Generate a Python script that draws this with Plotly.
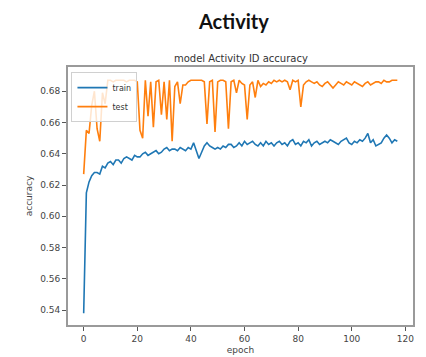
import plotly.graph_objects as go

epochs = list(range(118))

train_acc = [
    0.538, 0.615, 0.622, 0.626, 0.628, 0.628, 0.627, 0.632, 0.631, 0.634,
    0.635, 0.633, 0.636, 0.636, 0.634, 0.637, 0.638, 0.637, 0.636, 0.639,
    0.638, 0.638, 0.640, 0.641, 0.639, 0.640, 0.641, 0.642, 0.640, 0.641,
    0.643, 0.644, 0.642, 0.643, 0.643, 0.642, 0.644, 0.643, 0.642, 0.644,
    0.643, 0.647, 0.642, 0.637, 0.641, 0.645, 0.647, 0.645, 0.644, 0.643,
    0.644, 0.643, 0.645, 0.644, 0.646, 0.646, 0.644, 0.645, 0.647, 0.645,
    0.648, 0.646, 0.647, 0.648, 0.646, 0.645, 0.647, 0.645, 0.648, 0.646,
    0.647, 0.645, 0.647, 0.648, 0.646, 0.647, 0.645, 0.648, 0.649, 0.646,
    0.647, 0.645, 0.648, 0.647, 0.649, 0.645, 0.647, 0.648, 0.646, 0.647,
    0.648, 0.647, 0.649, 0.648, 0.647, 0.646, 0.648, 0.649, 0.650, 0.647,
    0.646, 0.648, 0.647, 0.649, 0.648, 0.650, 0.653, 0.647, 0.649, 0.645,
    0.646, 0.647, 0.650, 0.652, 0.650, 0.647, 0.649, 0.648,
]

test_acc = [
    0.627, 0.655, 0.653, 0.671, 0.680, 0.656, 0.648, 0.679, 0.672, 0.687,
    0.687, 0.686, 0.687, 0.687, 0.687, 0.687, 0.686, 0.687, 0.687, 0.687,
    0.686, 0.655, 0.650, 0.687, 0.664, 0.686, 0.657, 0.686, 0.687, 0.665,
    0.686, 0.662, 0.687, 0.648, 0.683, 0.686, 0.672, 0.684, 0.684, 0.686,
    0.687, 0.687, 0.687, 0.687, 0.687, 0.686, 0.659, 0.686, 0.687, 0.654,
    0.686, 0.687, 0.687, 0.686, 0.656, 0.686, 0.687, 0.679, 0.687, 0.685,
    0.684, 0.662, 0.684, 0.686, 0.676, 0.687, 0.683, 0.685, 0.684, 0.686,
    0.685, 0.687, 0.686, 0.687, 0.686, 0.687, 0.686, 0.681, 0.687, 0.686,
    0.687, 0.670, 0.684, 0.686, 0.687, 0.686, 0.685, 0.686, 0.684, 0.683,
    0.685, 0.686, 0.684, 0.682, 0.684, 0.686, 0.685, 0.684, 0.686, 0.685,
    0.684, 0.686, 0.685, 0.684, 0.683, 0.685, 0.686, 0.684, 0.685, 0.686,
    0.686, 0.685, 0.687, 0.686, 0.686, 0.687, 0.687, 0.687,
]

x_ticks = [0, 20, 40, 60, 80, 100, 120]
y_ticks = [0.54, 0.56, 0.58, 0.60, 0.62, 0.64, 0.66, 0.68]

fig = go.Figure()
fig.add_trace(go.Scatter(x=epochs, y=train_acc, mode="lines", name="train",
                         line=dict(color="#1f77b4", width=1.6)))
fig.add_trace(go.Scatter(x=epochs, y=test_acc, mode="lines", name="test",
                         line=dict(color="#ff7f0e", width=1.6)))

axis_common = dict(
    showgrid=False, zeroline=False, showline=True, mirror=True,
    linecolor="#9a9a9a", linewidth=2, ticks="outside", ticklen=4,
    tickcolor="#555", tickwidth=1, automargin=False,
    tickfont=dict(family="DejaVu Sans", size=9, color="#444"),
)

fig.update_layout(
    width=426, height=357,
    margin=dict(l=68, r=13, t=67, b=32),
    paper_bgcolor="white", plot_bgcolor="white",
    showlegend=True,
    legend=dict(x=0.01, y=0.98, xanchor="left", yanchor="top",
                bgcolor="rgba(255,255,255,0.8)", bordercolor="#d0d0d0",
                borderwidth=1, font=dict(family="DejaVu Sans", size=8, color="#333"),
                tracegroupgap=0, itemwidth=30),
    xaxis=dict(range=[-5.85, 122.85], tickvals=x_ticks,
               ticktext=[str(v) for v in x_ticks],
               title=dict(text="epoch", font=dict(family="DejaVu Sans", size=9, color="#444"),
                          standoff=4),
               **axis_common),
    yaxis=dict(range=[0.5305, 0.6955], tickvals=y_ticks,
               ticktext=[f"{v:.2f}" for v in y_ticks],
               title=dict(text="accuracy", font=dict(family="DejaVu Sans", size=9, color="#444"),
                          standoff=6),
               **axis_common),
    annotations=[
        dict(text="<b>Activity</b>", x=0.5, y=1.0, xref="paper", yref="paper",
             xanchor="center", yanchor="middle", yshift=46, xshift=-7,
             showarrow=False, font=dict(family="Lato", size=20, color="#111")),
        dict(text="model Activity ID accuracy", x=0.5, y=1.0, xref="paper", yref="paper",
             xanchor="center", yanchor="bottom", yshift=1, showarrow=False,
             font=dict(family="DejaVu Sans", size=10, color="#333")),
    ],
)

fig.write_html("out.html", config={"displayModeBar": False},
               post_script="document.body.style.margin='0';document.body.style.overflow='hidden';")
